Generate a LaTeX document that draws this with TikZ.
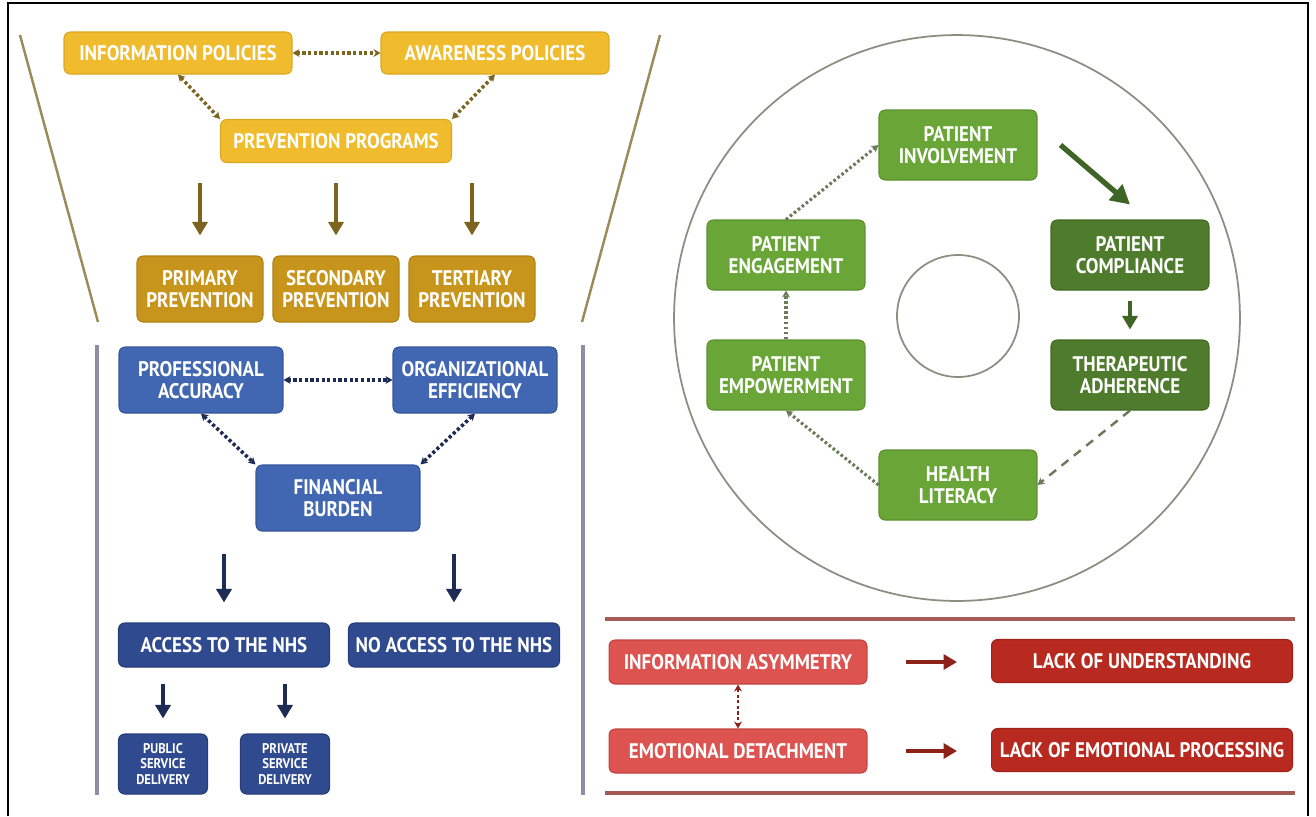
\documentclass[tikz,border=0pt]{standalone}
\usepackage{fontspec}
\setmainfont{PT Sans}[FakeStretch=0.9]
\usetikzlibrary{arrows.meta, positioning, calc}
\definecolor{PolYellow}{HTML}{F0BC2E}
\definecolor{PolYellowDark}{HTML}{D9A722}
\definecolor{PrevGold}{HTML}{C7941C}
\definecolor{PrevGoldDark}{HTML}{AE8017}
\definecolor{OliveArrow}{HTML}{7D6520}
\definecolor{FunnelLine}{HTML}{9B8B5A}
\definecolor{NhsBlue}{HTML}{4267B2}
\definecolor{NhsBlueDark}{HTML}{35559A}
\definecolor{NhsNavy}{HTML}{2F4A8F}
\definecolor{NhsNavyDark}{HTML}{263D78}
\definecolor{NavyArrow}{HTML}{1E2B55}
\definecolor{SideGray}{HTML}{8C8FA3}
\definecolor{PatGreen}{HTML}{6AA538}
\definecolor{PatGreenDark}{HTML}{5A8F2E}
\definecolor{CompGreen}{HTML}{4E7B2C}
\definecolor{CompGreenDark}{HTML}{426A24}
\definecolor{GreenArrow}{HTML}{3F6526}
\definecolor{GreenDots}{HTML}{6B7B5A}
\definecolor{RingGray}{HTML}{8B8F80}
\definecolor{AsymRed}{HTML}{DC5350}
\definecolor{AsymRedDark}{HTML}{C04440}
\definecolor{LackRed}{HTML}{B82A1F}
\definecolor{LackRedDark}{HTML}{9E2219}
\definecolor{RedArrow}{HTML}{8C2218}
\definecolor{RedRule}{HTML}{A65A56}

\begin{document}
\begin{tikzpicture}[x=0.02cm, y=-0.02cm,
    box/.style={rounded corners=3.5pt, align=center, text=white, inner sep=0pt, line width=0.6pt,
        font=\bfseries\fontsize{12}{12.5}\selectfont},
    yelbox/.style={box, fill=PolYellow, draw=PolYellowDark, minimum width=4.56cm, minimum height=0.84cm},
    goldbox/.style={box, fill=PrevGold, draw=PrevGoldDark, minimum width=2.52cm, minimum height=1.32cm},
    bluebox/.style={box, fill=NhsBlue, draw=NhsBlueDark, minimum width=3.28cm, minimum height=1.32cm},
    navybox/.style={box, fill=NhsNavy, draw=NhsNavyDark, minimum width=4.22cm, minimum height=0.88cm},
    smallnavy/.style={navybox, minimum width=1.78cm, minimum height=1.2cm,
        font=\bfseries\fontsize{8}{9}\selectfont},
    greenbox/.style={box, fill=PatGreen, draw=PatGreenDark, minimum width=3.16cm, minimum height=1.4cm},
    darkgreenbox/.style={greenbox, fill=CompGreen, draw=CompGreenDark},
    redbox/.style={box, fill=AsymRed, draw=AsymRedDark, minimum width=5.16cm, minimum height=0.88cm},
    lackbox/.style={box, fill=LackRed, draw=LackRedDark, minimum width=6.02cm, minimum height=0.86cm},
    fatarrow/.style={line width=2.3pt, -{Triangle[length=2.7mm, width=3mm]}},
    dotlink/.style={line width=2pt, dash pattern=on 1.8pt off 1.4pt,
        {Stealth[length=4pt, width=4.5pt]}-{Stealth[length=4pt, width=4.5pt]}},
    dotto/.style={line width=1.8pt, dash pattern=on 1.5pt off 1.4pt, GreenDots,
        -{Stealth[length=4pt, width=4.5pt]}}]
\useasboundingbox (0,0) rectangle (1316,816);

% frame
\draw[line width=1.2pt] (8,816) -- (8,3) -- (1308,3) -- (1308,816);

% prevention funnel
\draw[FunnelLine, line width=1.4pt] (20,35) -- (98,322);
\draw[FunnelLine, line width=1.4pt] (660,35) -- (582,322);
\node[yelbox] (info) at (178,53) {INFORMATION POLICIES};
\node[yelbox] (aware) at (495,53) {AWARENESS POLICIES};
\node[yelbox, minimum width=4.62cm, minimum height=0.86cm] (prog) at (336,141) {PREVENTION PROGRAMS};
\draw[dotlink, OliveArrow] (info) -- (aware);
\draw[dotlink, OliveArrow] (info.south) -- (prog.north west);
\draw[dotlink, OliveArrow] (aware.south) -- (prog.north east);
\foreach \n/\x/\t in {1/200/PRIMARY, 2/336/SECONDARY, 3/472/TERTIARY}
{
    \node[goldbox] (P\n) at (\x,289) {\t\\PREVENTION};
    \draw[fatarrow, OliveArrow, shorten <=0.4cm, shorten >=0.4cm] (P\n |- prog.south) -- (P\n.north);
}

% access to care
\draw[SideGray, line width=1.8pt] (97,345) -- (97,795);
\draw[SideGray, line width=1.8pt] (583,345) -- (583,795);
\node[bluebox] (prof) at (201,380) {PROFESSIONAL\\ACCURACY};
\node[bluebox] (org) at (475,380) {ORGANIZATIONAL\\EFFICIENCY};
\node[bluebox] (fin) at (338,498) {FINANCIAL\\BURDEN};
\draw[dotlink, NavyArrow] (prof) -- (org);
\draw[dotlink, NavyArrow] (prof.south) -- (fin.north west);
\draw[dotlink, NavyArrow] (org.south) -- (fin.north east);
\node[navybox] (acc) at (224,645) {ACCESS TO THE NHS};
\node[navybox] (noacc) at (454,645) {NO ACCESS TO THE NHS};
\draw[fatarrow, NavyArrow, shorten <=0.44cm, shorten >=0.4cm] (acc |- fin.south) -- (acc.north);
\draw[fatarrow, NavyArrow, shorten <=0.44cm, shorten >=0.4cm] (noacc |- fin.south) -- (noacc.north);
\node[smallnavy] (pub) at (163,764) {PUBLIC\\SERVICE\\DELIVERY};
\node[smallnavy] (priv) at (285,764) {PRIVATE\\SERVICE\\DELIVERY};
\draw[fatarrow, NavyArrow, shorten <=0.32cm, shorten >=0.3cm] (pub |- acc.south) -- (pub.north);
\draw[fatarrow, NavyArrow, shorten <=0.32cm, shorten >=0.3cm] (priv |- acc.south) -- (priv.north);

% patient cycle
\draw[RingGray, line width=1pt] (957,318) circle (5.66cm);
\draw[RingGray, line width=1pt] (958,316) circle (1.22cm);
\node[greenbox] (involv) at (958,145) {PATIENT\\INVOLVEMENT};
\node[darkgreenbox] (compl) at (1130,255) {PATIENT\\COMPLIANCE};
\node[darkgreenbox] (adher) at (1130,375) {THERAPEUTIC\\ADHERENCE};
\node[greenbox] (health) at (958,485) {HEALTH\\LITERACY};
\node[greenbox] (empow) at (786,375) {PATIENT\\EMPOWERMENT};
\node[greenbox] (engage) at (786,255) {PATIENT\\ENGAGEMENT};
\draw[GreenArrow, line width=3pt, -{Triangle[length=3.8mm, width=4mm]}]
    ([xshift=0.46cm]involv.east) -- ([yshift=0.3cm]compl.north);
\draw[fatarrow, GreenArrow, shorten <=0.2cm, shorten >=0.2cm] (compl) -- (adher);
\draw[GreenDots, line width=1.4pt, dash pattern=on 5pt off 4pt, -{Stealth[length=4pt, width=4.5pt]}]
    (adher.south) -- (health.east);
\draw[dotto] (health.west) -- (empow.south);
\draw[dotto] (empow) -- (engage);
\draw[dotto] (engage.north) -- (involv.west);

% communication gaps
\draw[RedRule, line width=1.8pt] (605,619) -- (1295,619);
\draw[RedRule, line width=1.8pt] (605,793) -- (1295,793);
\node[redbox] (asym) at (738,662) {INFORMATION ASYMMETRY};
\node[redbox] (detach) at (738,751) {EMOTIONAL DETACHMENT};
\node[lackbox] (under) at (1142,661) {LACK OF UNDERSTANDING};
\node[lackbox] (emoproc) at (1142,750) {LACK OF EMOTIONAL PROCESSING};
\draw[dotlink, RedArrow, line width=1.4pt] (asym) -- (detach);
\draw[fatarrow, RedArrow, shorten <=0.76cm, shorten >=0.68cm] (asym.east) -- (asym.east -| under.west);
\draw[fatarrow, RedArrow, shorten <=0.76cm, shorten >=0.68cm] (detach.east) -- (detach.east -| emoproc.west);
\end{tikzpicture}
\end{document}
